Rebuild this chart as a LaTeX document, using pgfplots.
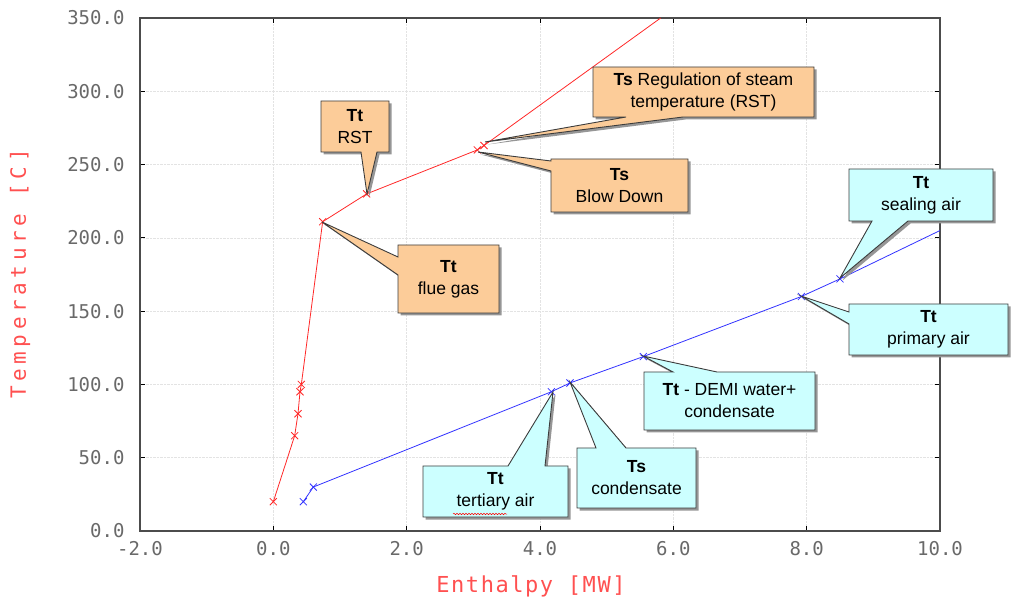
\documentclass[border=0pt]{standalone}
\usepackage{pgfplots}
\pgfplotsset{compat=1.18}
\usepackage{pgfplotstable}
\usepackage{fontspec}
\setmainfont{Liberation Sans}
\newfontfamily\tickfont{DejaVu Sans Mono}
\newfontfamily\ylabfont[LetterSpace=22]{DejaVu Sans Mono}
\newfontfamily\xlabfont[LetterSpace=7]{DejaVu Sans Mono}
\usetikzlibrary{decorations.pathmorphing}
\definecolor{redline}{RGB}{255,40,40}
\definecolor{blueline}{RGB}{50,50,255}
\definecolor{labred}{RGB}{255,80,80}
\definecolor{tickgray}{RGB}{105,105,105}
\definecolor{orangefill}{RGB}{252,204,153}
\definecolor{cyanfill}{RGB}{204,255,255}
\definecolor{boxline}{RGB}{60,60,60}
\definecolor{shadowgray}{RGB}{150,150,150}

\pgfplotstableread{
x y
0.00 20
0.32 65
0.37 80
0.40 95
0.42 100
0.74 211
1.40 230
3.06 260
3.16 263
5.81 350
}\redtable

\pgfplotstableread{
x y
0.45 20
0.60 30
4.17 95
4.45 101
5.55 119
7.92 160
8.50 172
10.00 205
}\bluetable

\newcommand{\callout}[3]{%
  \fill[shadowgray] [shift={(2.5,2.5)}] #2;
  \filldraw[fill=#1, draw=boxline, line width=0.9pt] #2;
}

\begin{document}
\begin{tikzpicture}
\begin{axis}[
  at={(0,0)}, anchor=south west,
  scale only axis, width=800pt, height=513pt,
  xmin=-2, xmax=10, ymin=0, ymax=350,
  xtick={-2,0,...,10}, ytick={0,50,...,350},
  tick align=inside, major tick length=5pt,
  grid=major, grid style={densely dotted, gray!22, line width=0.6pt},
  axis line style={black!70, line width=1.3pt},
  tick style={black, line width=1pt},
  ticklabel style={font=\tickfont\fontsize{19}{19}\selectfont, text=tickgray},
  yticklabel style={xshift=-12pt},
  xticklabel style={yshift=-7pt},
  clip=false,
  /pgf/number format/fixed,
  /pgf/number format/fixed zerofill,
  /pgf/number format/precision=1,
  /pgf/number format/assume math mode=true,
]
\addplot[redline, line width=0.8pt, no marks] table {\redtable};
\addplot[redline, line width=0.8pt, only marks, mark=x, mark size=5pt, skip coords between index={9}{10}] table {\redtable};
\addplot[blueline, line width=0.8pt, no marks] table {\bluetable};
\addplot[blueline, line width=0.8pt, only marks, mark=x, mark size=5pt, skip coords between index={7}{8}] table {\bluetable};
\end{axis}

\begin{scope}[shift={(-140pt,531pt)}, x=1pt, y=-1pt]
\path[use as bounding box] (0,0) rectangle (1011,602);

\node[rotate=90, text=labred, font=\ylabfont\fontsize{21}{21}\selectfont] at (20,274) {Temperature [C]};
\node[text=labred, font=\xlabfont\fontsize{22}{22}\selectfont] at (531,586) {Enthalpy [MW]};

\tikzset{cotext/.style={align=center, font=\fontsize{17.5}{22}\selectfont, text=black}}

% Tt RST
\callout{orangefill}{(321,101)--(389,101)--(389,152)--(377,152)--(367,194)--(361,152)--(321,152)--cycle}{}
\node[cotext] at (355,126.5) {\textbf{Tt}\\RST};

% Tt flue gas
\callout{orangefill}{(398,245)--(499,245)--(499,313)--(398,313)--(398,275)--(322,222)--(398,257)--cycle}{}
\node[cotext] at (448.5,279) {\textbf{Tt}\\flue gas};

% Ts Regulation
\callout{orangefill}{(593,67)--(814,67)--(814,117)--(683,117)--(485,142)--(626,117)--(593,117)--cycle}{}
\node[cotext] at (703.5,92) {\textbf{Ts} Regulation of steam\\temperature (RST)};

% Ts Blow Down
\callout{orangefill}{(551,159)--(688,159)--(688,212)--(551,212)--(551,171)--(478,152)--(551,161)--cycle}{}
\node[cotext] at (619.5,185.5) {\textbf{Ts}\\Blow Down};

% Tt sealing air
\callout{cyanfill}{(849,169)--(993,169)--(993,221)--(908,221)--(840,278)--(872,221)--(849,221)--cycle}{}
\node[cotext] at (921,195) {\textbf{Tt}\\sealing air};

% Tt primary air
\callout{cyanfill}{(849,304)--(1008,304)--(1008,355)--(849,355)--(849,324)--(801,296)--(849,312)--cycle}{}
\node[cotext] at (928.5,329.5) {\textbf{Tt}\\primary air};

% Tt DEMI
\callout{cyanfill}{(644,372)--(673,372)--(643,356)--(717,372)--(815,372)--(815,430)--(644,430)--cycle}{}
\node[cotext] at (729.5,401) {\textbf{Tt} - DEMI water+\\condensate};

% Ts condensate
\callout{cyanfill}{(577,448)--(596,448)--(570,382)--(626,448)--(696,448)--(696,508)--(577,508)--cycle}{}
\node[cotext] at (636.5,478) {\textbf{Ts}\\condensate};

% Tt tertiary air
\callout{cyanfill}{(423,466)--(508,466)--(553,392)--(545,466)--(568,466)--(568,517)--(423,517)--cycle}{}
\node[cotext] at (495.5,491.5) {\textbf{Tt}\\tertiary air};
\draw[red, line width=0.5pt, decorate, decoration={snake, amplitude=0.7pt, segment length=3pt}] (453,514)--(507,514);
\end{scope}
\end{tikzpicture}
\end{document}
